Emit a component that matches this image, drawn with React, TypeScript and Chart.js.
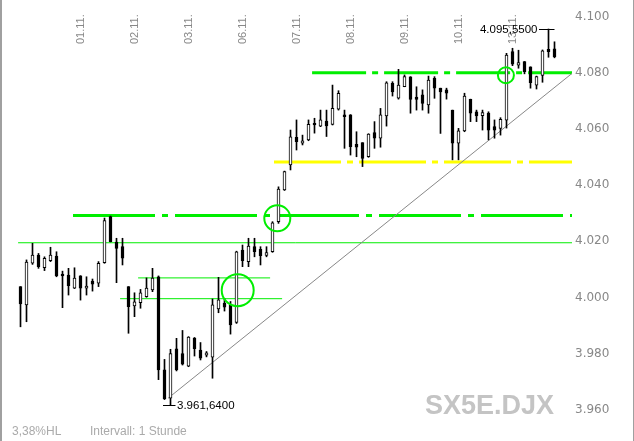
import React, { useEffect, useRef } from 'react';
import { Chart, registerables } from 'chart.js';

Chart.register(...registerables);

// ---- data (hourly candles, SX5E) ----
const opens = [
  4003.9, 3997.4, 4012.2, 4015.1, 4010.6, 4013.1, 4014.8, 4008.4, 4008.0,
  4003.3, 4007.7, 4003.3, 4005.9, 4005.1, 4012.4, 4028.8, 4019.7, 4018.1,
  4003.9, 3997.0, 3998.2, 4000.3, 4002.7, 4007.4, 3974.3, 3964.2, 3981.8,
  3980.1, 3975.6, 3985.6, 3981.3, 3979.5, 3978.8, 3996.0, 3998.0, 3997.4,
  3991.2, 4016.9, 4012.8, 4018.1, 4017.2, 4015.0, 4016.3, 4027.0, 4038.3,
  4047.2, 4057.0, 4054.9, 4056.1, 4062.0, 4061.0, 4062.8, 4061.6, 4067.0,
  4065.0, 4065.0, 4054.5, 4055.1, 4050.1, 4058.7, 4056.7, 4064.6, 4076.2,
  4070.9, 4075.0, 4078.5, 4071.3, 4072.1, 4068.5, 4078.0, 4074.5, 4073.9,
  4066.7, 4054.9, 4059.3, 4070.5, 4066.1, 4064.7, 4065.6, 4060.8, 4060.2,
  4063.1, 4087.5, 4082.7, 4084.0, 4082.1, 4075.6, 4079.0, 4088.3, 4088.5,
];
const highs = [
  4003.9, 4013.4, 4019.3, 4015.7, 4014.5, 4017.9, 4016.3, 4009.4, 4010.4,
  4010.6, 4007.8, 4007.4, 4006.6, 4012.8, 4028.3, 4029.0, 4021.1, 4021.1,
  4003.9, 4001.7, 4002.9, 4007.0, 4010.4, 4007.7, 3978.0, 3981.6, 3985.5,
  3988.3, 3986.1, 3985.8, 3984.0, 3980.8, 3999.5, 4007.2, 3999.6, 3998.6,
  4016.5, 4018.7, 4021.1, 4021.1, 4018.1, 4018.1, 4027.0, 4039.4, 4045.0,
  4059.6, 4063.2, 4057.8, 4063.2, 4063.8, 4066.7, 4066.7, 4075.6, 4073.6,
  4066.7, 4065.1, 4059.0, 4055.1, 4058.3, 4062.6, 4067.3, 4076.8, 4076.8,
  4081.2, 4079.2, 4078.6, 4075.0, 4073.9, 4078.8, 4078.6, 4074.5, 4074.5,
  4066.7, 4060.2, 4072.7, 4070.6, 4066.7, 4066.7, 4066.1, 4063.2, 4064.0,
  4086.9, 4088.7, 4088.0, 4084.0, 4082.1, 4078.8, 4088.1, 4095.55, 4091.0,
];
const lows = [
  3989.6, 3991.4, 4011.8, 4010.4, 4009.6, 4012.8, 4007.4, 3996.4, 4000.9,
  4003.2, 3999.1, 4000.9, 4002.3, 4003.9, 4012.2, 4019.8, 4005.3, 4011.6,
  3987.3, 3993.2, 3996.2, 4000.1, 4002.1, 3970.8, 3963.7, 3961.64, 3973.9,
  3976.0, 3975.4, 3979.2, 3977.8, 3978.9, 3971.3, 3994.6, 3995.2, 3987.0,
  3990.8, 4011.0, 4011.0, 4014.5, 4011.6, 4014.5, 4016.1, 4026.4, 4038.1,
  4045.4, 4052.5, 4054.3, 4055.8, 4058.5, 4060.8, 4057.3, 4061.4, 4066.7,
  4053.1, 4050.7, 4050.1, 4046.6, 4049.9, 4053.1, 4053.5, 4061.0, 4071.7,
  4070.6, 4075.0, 4065.6, 4066.7, 4066.7, 4065.6, 4070.9, 4058.4, 4070.6,
  4049.0, 4049.0, 4059.0, 4062.6, 4062.6, 4059.6, 4056.1, 4056.7, 4057.8,
  4060.3, 4082.5, 4081.6, 4079.6, 4074.5, 4074.2, 4076.6, 4085.5, 4085.3,
];
const closes = [
  3997.7, 4012.6, 4015.1, 4011.0, 4014.0, 4015.1, 4007.7, 4007.7, 4004.2,
  4006.9, 4003.3, 4004.1, 4004.8, 4012.2, 4027.4, 4019.9, 4017.5, 4014.0,
  3996.8, 3998.5, 4001.7, 4003.4, 4006.9, 3974.3, 3964.0, 3980.1, 3974.3,
  3976.3, 3985.9, 3981.8, 3978.4, 3980.3, 3997.4, 3999.2, 3996.6, 3990.3,
  4016.3, 4013.1, 4018.3, 4016.3, 4014.9, 4016.0, 4026.6, 4038.6, 4044.8,
  4057.2, 4055.5, 4055.8, 4061.6, 4061.4, 4063.2, 4061.1, 4067.3, 4072.7,
  4064.4, 4053.7, 4053.5, 4049.5, 4058.2, 4056.7, 4065.0, 4076.4, 4073.2,
  4075.6, 4078.6, 4070.5, 4070.5, 4069.1, 4077.4, 4074.5, 4073.2, 4072.7,
  4054.9, 4059.3, 4071.7, 4065.6, 4064.6, 4065.8, 4059.6, 4059.6, 4063.4,
  4086.3, 4083.0, 4083.6, 4080.4, 4076.5, 4078.6, 4087.8, 4087.5, 4085.6,
];

// date labels (placed at candle index)
const dateLabels = ['01.11.', '02.11.', '03.11.', '06.11.', '07.11.', '08.11.', '09.11.', '10.11.', '13.11.'];
const dateTickIndex = [10, 19, 28, 37, 46, 55, 64, 73, 82];
const yTickValues = [3960, 3980, 4000, 4020, 4040, 4060, 4080, 4100];

// horizontal drawn levels: value, from index, to index
const thickGreenValues = [4080, 4029.2];
const thickGreenFrom = [48.6, 8.75];
const yellowValue = 4048.2;
const yellowFrom = 42.25;
const thinGreenValues = [4019.5, 4007.0, 3999.6];
const thinGreenFrom = [-0.4, 19.6, 16.6];
const thinGreenTo = [92, 41.6, 43.6];

// trend line (index, value)
const trendFrom = [24.6, 3964.2];
const trendTo = [92, 4079.9];

// marker circles (index, value)
const circleIndex = [36.2, 42.8, 80.9];
const circleValue = [4002.6, 4028.2, 4079.1];

const symbolName = 'SX5E.DJX';
const intervalText = 'Intervall: 1 Stunde';

const X_MIN = -20.5 / 6;
const X_MAX = X_MIN + 572 / 6;
const Y_MAX = 4100 + 16.5 / 2.8107;
const Y_MIN = Y_MAX - 441 / 2.8107;

function fmtTick(v: number) {
  const s = String(Math.round(v));
  return s.slice(0, -3) + '.' + s.slice(-3);
}
function fmtPrice(v: number) {
  const [a, b] = v.toFixed(4).split('.');
  return a.slice(0, -3) + '.' + a.slice(-3) + ',' + b;
}

export default function App() {
  const ref = useRef<HTMLCanvasElement>(null);
  useEffect(() => {
    if (!ref.current) return;
    const idx = opens.map((_, i) => i);
    const wickData = idx.map((i) => ({ x: i, y: [lows[i], highs[i]] }));
    const bodyData = idx.map((i) => ({ x: i, y: [Math.min(opens[i], closes[i]), Math.max(opens[i], closes[i])] }));
    const bodyFill = idx.map((i) => (closes[i] >= opens[i] ? '#ffffff' : '#000000'));

    let hiI = 0, loI = 0;
    idx.forEach((i) => {
      if (highs[i] > highs[hiI]) hiI = i;
      if (lows[i] < lows[loI]) loI = i;
    });
    const hlPct = ((highs[hiI] - lows[loI]) / lows[loI] * 100).toFixed(2).replace('.', ',') + '%HL';

    const GREEN = '#00ee00';
    const lineDs: any[] = [];
    thickGreenValues.forEach((v, k) => {
      lineDs.push({
        type: 'line', data: [{ x: thickGreenFrom[k], y: v }, { x: 92, y: v }],
        borderColor: GREEN, borderWidth: 3, borderDash: k === 0 ? [54, 6, 6, 6] : [82, 7, 6, 7],
        pointRadius: 0, order: 10, borderCapStyle: 'butt',
      });
    });
    lineDs.push({
      type: 'line', data: [{ x: yellowFrom, y: yellowValue }, { x: 92, y: yellowValue }],
      borderColor: '#ffff00', borderWidth: 3, borderDash: [67, 6, 6, 6], pointRadius: 0, order: 10,
    });
    thinGreenValues.forEach((v, k) => {
      lineDs.push({
        type: 'line', data: [{ x: thinGreenFrom[k], y: v }, { x: thinGreenTo[k], y: v }],
        borderColor: GREEN, borderWidth: 1, pointRadius: 0, order: 10,
      });
    });

    const overlay = {
      id: 'overlay',
      beforeDraw(chart: any) {
        const ctx = chart.ctx;
        ctx.save();
        ctx.fillStyle = '#ffffff';
        ctx.fillRect(0, 0, chart.width, chart.height);
        ctx.fillStyle = '#a0a0a0';
        ctx.fillRect(0, 0, 2, chart.height);
        ctx.fillRect(633, 0, 1, chart.height);
        // watermark
        ctx.fillStyle = '#c4c4c4';
        ctx.font = 'bold 27px "Liberation Sans"';
        ctx.textBaseline = 'alphabetic';
        ctx.textAlign = 'left';
        ctx.fillText(symbolName, 425, 413.5);
        ctx.fillStyle = '#aaaaaa';
        ctx.font = '12px "Liberation Sans"';
        ctx.fillText(hlPct, 12, 434.5);
        ctx.fillText(intervalText, 90, 434.5);
        ctx.restore();
      },
      afterDraw(chart: any) {
        const ctx = chart.ctx;
        const xs = chart.scales.x, ys = chart.scales.y;
        ctx.save();
        ctx.fillStyle = '#000';
        ctx.strokeStyle = '#000';
        ctx.lineWidth = 1;
        ctx.font = '11.5px "Liberation Sans"';
        ctx.textBaseline = 'middle';
        // high label
        const hx = xs.getPixelForValue(hiI);
        const hy = Math.round(ys.getPixelForValue(highs[hiI])) + 0.5;
        ctx.beginPath(); ctx.moveTo(hx - 9.5, hy); ctx.lineTo(hx + 6, hy); ctx.stroke();
        ctx.textAlign = 'right';
        ctx.fillText(fmtPrice(highs[hiI]), hx - 11, hy);
        // low label
        const lx = xs.getPixelForValue(loI);
        const ly = Math.round(ys.getPixelForValue(lows[loI])) + 0.5;
        ctx.beginPath(); ctx.moveTo(lx - 7.5, ly); ctx.lineTo(lx + 5, ly); ctx.stroke();
        ctx.textAlign = 'left';
        ctx.fillText(fmtPrice(lows[loI]), lx + 6.5, ly);
        ctx.restore();
      },
    };

    const chart = new Chart(ref.current, {
      type: 'bar',
      data: {
        datasets: [
          ...lineDs,
          {
            type: 'line', data: [{ x: trendFrom[0], y: trendFrom[1] }, { x: trendTo[0], y: trendTo[1] }],
            borderColor: '#888888', borderWidth: 1, pointRadius: 0, order: 4,
          },
          {
            type: 'bar', data: wickData, backgroundColor: '#000000', borderWidth: 0,
            barThickness: 1, grouped: false, order: 3,
          },
          {
            type: 'bar', data: bodyData, backgroundColor: bodyFill, borderColor: '#000000', borderWidth: 1,
            borderSkipped: false, barThickness: 3, grouped: false, minBarLength: 1, order: 2,
          },
          {
            type: 'line', showLine: false,
            data: circleIndex.map((x, k) => ({ x, y: circleValue[k] })),
            pointRadius: [16, 13, 8], pointBorderColor: GREEN, pointBorderWidth: 2,
            pointBackgroundColor: 'rgba(0,0,0,0)', pointStyle: 'circle', order: 1,
          },
        ] as any,
      },
      options: {
        responsive: false,
        devicePixelRatio: 1,
        animation: false,
        events: [],
        layout: { padding: 0, autoPadding: false },
        plugins: { legend: { display: false }, tooltip: { enabled: false } },
        scales: {
          x: {
            type: 'linear', position: 'top', min: X_MIN, max: X_MAX, offset: false,
            grid: { display: false, drawTicks: false }, border: { display: false },
            afterBuildTicks: (s: any) => { s.ticks = dateTickIndex.map((v) => ({ value: v })); },
            afterFit: (s: any) => { s.height = 0; s.paddingLeft = 0; s.paddingRight = 0; },
            ticks: {
              autoSkip: false, minRotation: 90, maxRotation: 90, padding: 44, mirror: true,
              color: '#888888', font: { family: '"Liberation Sans"', size: 11 },
              callback: (v: any) => dateLabels[dateTickIndex.indexOf(Number(v))] ?? '',
            },
          },
          y: {
            type: 'linear', position: 'right', min: Y_MIN, max: Y_MAX,
            grid: { display: false, drawTicks: false }, border: { display: false },
            afterBuildTicks: (s: any) => { s.ticks = yTickValues.map((v) => ({ value: v })); },
            afterFit: (s: any) => { s.width = 62; s.paddingTop = 0; s.paddingBottom = 0; },
            ticks: {
              padding: 3, color: '#888888', font: { family: '"DejaVu Sans"', size: 12 },
              callback: (v: any) => fmtTick(Number(v)),
            },
          },
        },
      } as any,
      plugins: [overlay],
    });
    return () => chart.destroy();
  }, []);
  return (
    <div style={{ position: 'fixed', left: 0, top: 0, width: 634, height: 441, background: '#fff' }}>
      <canvas ref={ref} width={634} height={441} style={{ display: 'block' }} />
    </div>
  );
}
